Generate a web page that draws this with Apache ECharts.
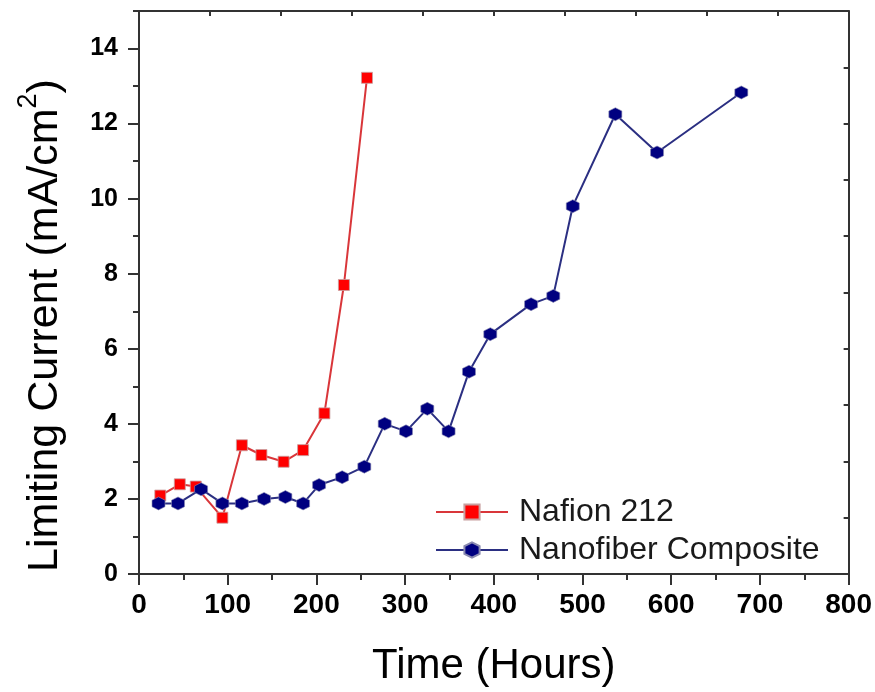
<!DOCTYPE html>
<html>
<head>
<meta charset="utf-8">
<script src="https://cdn.jsdelivr.net/npm/echarts@6/dist/echarts.min.js"></script>
<style>
html,body{margin:0;padding:0;background:#fff;}
#chart{width:875px;height:692px;}
</style>
</head>
<body>
<div id="chart"></div>
<script>
// ---- data ----
const nafionTime = [24, 46, 64, 94, 116, 138, 163, 185, 209, 231, 257];
const nafionCurrent = [2.09, 2.39, 2.33, 1.5, 3.43, 3.17, 2.99, 3.3, 4.28, 7.7, 13.22];

const compositeTime = [22, 44, 70, 94, 116, 141, 165, 185, 203, 229, 254, 277, 301, 325, 349, 372, 396, 442, 467, 489, 537, 584, 679];
const compositeCurrent = [1.88, 1.88, 2.26, 1.88, 1.88, 2.0, 2.05, 1.88, 2.37, 2.58, 2.86, 4.0, 3.8, 4.4, 3.8, 5.39, 6.39, 7.19, 7.41, 9.8, 12.25, 11.23, 12.83];

const seriesNames = ['Nafion 212', 'Nanofiber Composite'];
const yMajorTicks = [0, 2, 4, 6, 8, 10, 12, 14];
const yMinorTicks = [1, 3, 5, 7, 9, 11, 13, 15];

const FONT = 'Liberation Sans, Arial, sans-serif';
const AXIS_COLOR = '#333';

function pairs(xs, ys) { return xs.map((x, i) => [x, ys[i]]); }

const chart = echarts.init(document.getElementById('chart'), null, {renderer: 'canvas'});

const hexagon = 'path://M0,-10 L8.66,-5 L8.66,5 L0,10 L-8.66,5 L-8.66,-5 Z';

chart.setOption({
  animation: false,
  backgroundColor: '#fff',
  grid: {left: 139, right: 26, top: 11, bottom: 116, containLabel: false},
  legend: {
    orient: 'vertical',
    left: 435,
    top: 496,
    padding: 0,
    itemGap: 6,
    itemWidth: 72,
    itemHeight: 19,
    data: seriesNames,
    textStyle: {fontFamily: FONT, fontSize: 32, color: '#1a1a1a', lineHeight: 32, padding: [0, 0, 0, 6]}
  },
  xAxis: [
    {
      type: 'value', min: 0, max: 800, interval: 100, position: 'bottom',
      name: 'Time (Hours)', nameLocation: 'middle', nameGap: 71,
      nameTextStyle: {fontFamily: FONT, fontSize: 42, color: '#000'},
      axisLine: {show: true, lineStyle: {color: AXIS_COLOR, width: 2}},
      axisTick: {show: true, inside: false, length: 11, lineStyle: {color: AXIS_COLOR, width: 2}},
      minorTick: {show: true, splitNumber: 2, length: 6, lineStyle: {color: AXIS_COLOR, width: 2}},
      axisLabel: {fontFamily: FONT, fontSize: 28, fontWeight: 'bold', color: '#000', margin: 17},
      splitLine: {show: false}
    },
    {
      type: 'value', min: 0, max: 10, interval: 1, position: 'top',
      axisLine: {show: true, onZero: false, lineStyle: {color: AXIS_COLOR, width: 2}},
      axisTick: {show: true, inside: true, length: 5, lineStyle: {color: AXIS_COLOR, width: 2}},
      axisLabel: {show: false},
      splitLine: {show: false}
    }
  ],
  yAxis: [
    {
      type: 'value', min: 0, max: 15, interval: 1, position: 'left',
      name: '{a|Limiting Current (mA/cm}{s|2}{a|)}', nameLocation: 'middle', nameGap: 72,
      nameTextStyle: {
        fontFamily: FONT, color: '#000', padding: [0, 66, 0, 0],
        rich: {
          a: {fontFamily: FONT, fontSize: 43, color: '#000', lineHeight: 52, verticalAlign: 'bottom'},
          s: {fontFamily: FONT, fontSize: 27, color: '#000', lineHeight: 30, verticalAlign: 'top'}
        }
      },
      axisLine: {show: true, onZero: false, lineStyle: {color: AXIS_COLOR, width: 2}},
      axisTick: {show: true, inside: false, length: 11, customValues: yMajorTicks, lineStyle: {color: AXIS_COLOR, width: 2}},
      axisLabel: {fontFamily: FONT, fontSize: 25, fontWeight: 'bold', color: '#000', margin: 21, customValues: yMajorTicks},
      splitLine: {show: false}
    },
    {
      type: 'value', min: 0, max: 15, interval: 1, position: 'left',
      axisLine: {show: false},
      axisTick: {show: true, inside: false, length: 6, customValues: yMinorTicks, lineStyle: {color: AXIS_COLOR, width: 2}},
      axisLabel: {show: false},
      splitLine: {show: false}
    },
    {
      type: 'value', min: 0, max: 10, interval: 1, position: 'right',
      axisLine: {show: true, onZero: false, lineStyle: {color: AXIS_COLOR, width: 2}},
      axisTick: {show: true, inside: true, length: 5, lineStyle: {color: AXIS_COLOR, width: 2}},
      axisLabel: {show: false},
      splitLine: {show: false}
    }
  ],
  series: [
    {
      name: seriesNames[0], type: 'line', xAxisIndex: 0, yAxisIndex: 0,
      data: pairs(nafionTime, nafionCurrent),
      symbol: 'rect', symbolSize: 11, showAllSymbol: true,
      lineStyle: {color: '#d9363a', width: 2},
      itemStyle: {color: '#ff0000', borderColor: '#c8a0a0', borderWidth: 0.8},
      z: 2
    },
    {
      name: seriesNames[1], type: 'line', xAxisIndex: 0, yAxisIndex: 0,
      data: pairs(compositeTime, compositeCurrent),
      symbol: hexagon, symbolSize: 13, showAllSymbol: true,
      lineStyle: {color: '#2b2f82', width: 2},
      itemStyle: {color: '#000080', borderColor: '#8a8ab0', borderWidth: 0.6},
      z: 3
    }
  ]
});
</script>
</body>
</html>
